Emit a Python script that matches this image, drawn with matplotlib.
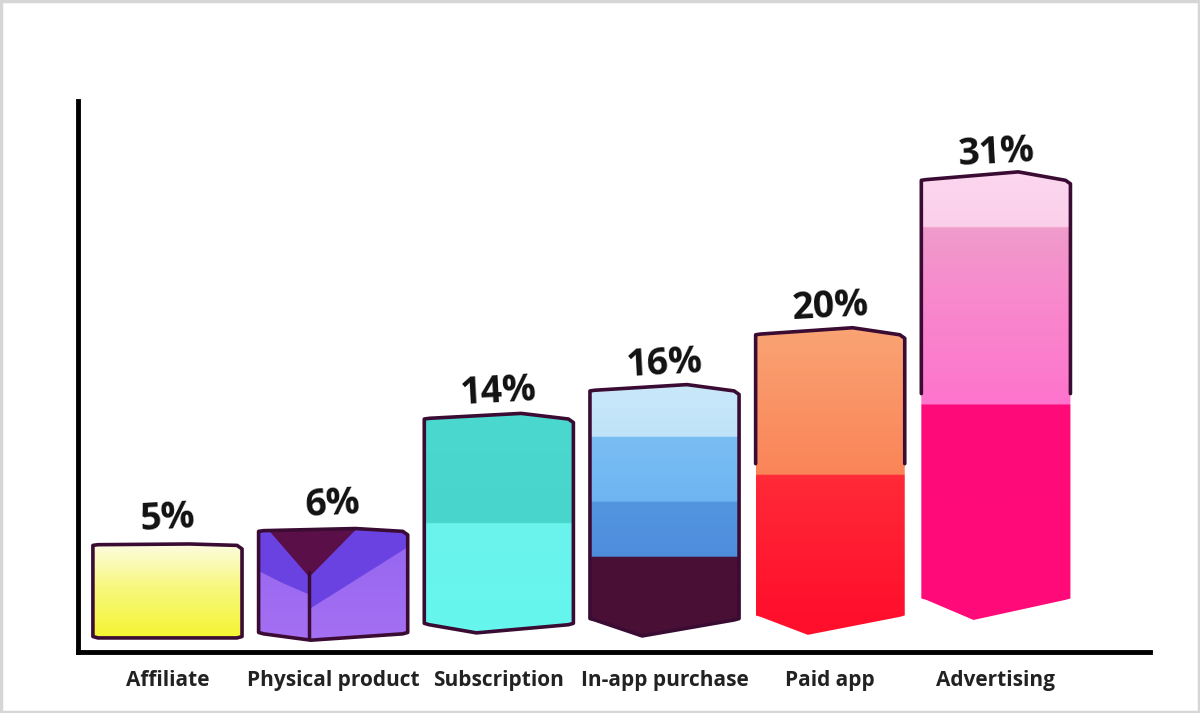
import numpy as np
import matplotlib
matplotlib.use("Agg")
import matplotlib.pyplot as plt
from matplotlib.patches import Polygon, Rectangle
from matplotlib.colors import LinearSegmentedColormap

# ---------------- data ----------------
categories = ["Affiliate", "Physical product", "Subscription",
              "In-app purchase", "Paid app", "Advertising"]
values = [5, 6, 14, 16, 20, 31]
value_labels = ["5%", "6%", "14%", "16%", "20%", "31%"]

# ---------------- styles ----------------
# colour stops: (fraction of bar height from bottom, colour)
bar_stops = [
    [(0.0, "#f4f432"), (0.55, "#f8f880"), (1.0, "#fcfce0")],
    [(0.0, "#a46ff2"), (1.0, "#9466f0")],
    [(0.0, "#66f6ee"), (0.492, "#6af3ec"), (0.493, "#48d5cb"), (1.0, "#4bd8ce")],
    [(0.0, "#4a0f35"), (0.274, "#4a0f35"), (0.275, "#4e8ddc"), (0.514, "#5396e0"),
     (0.515, "#6eb6f2"), (0.797, "#79bdf3"), (0.798, "#bfe3f8"), (1.0, "#c8e8fa")],
    [(0.0, "#ff0f2c"), (0.502, "#ff2a38"), (0.503, "#fb8458"), (1.0, "#f9a272")],
    [(0.0, "#ff0a78"), (0.464, "#ff0a7a"), (0.465, "#fe74cc"), (0.75, "#f78ccd"),
     (0.886, "#ef9ccb"), (0.887, "#fbcfea"), (1.0, "#fcd6ee")],
]
peak = [0.05, 0.15, 0.35, 0.4, 0.45, 0.55]             # top ridge height (data units)
side_bottom = [-1.64, -1.35, -0.7, -0.36, -0.14, 1.07]  # lower end of bar sides
point_bottom = [-1.64, -1.8, -1.28, -1.5, -1.42, -0.36]  # tip of bottom point
outline_down = [0.0, 0.0, 0.0, 0.0, 0.502, 0.464]      # outline stops at this fraction
outline_color = "#3b0c33"
base = -1.8
width = 0.9

fig = plt.figure(figsize=(12, 7.13), dpi=100)
ax = fig.add_axes([0.065, 0.0856, 0.8933, 0.7728])
x = np.arange(len(categories))

bars = ax.bar(x, [v - base for v in values], bottom=base, width=width,
              color="none", edgecolor="none", zorder=1)

for i, (b, v) in enumerate(zip(bars, values)):
    x0, w = b.get_x(), b.get_width()
    x1 = x0 + w
    yt = b.get_y() + b.get_height()
    sb, pb = side_bottom[i], point_bottom[i]
    h = yt - sb
    pts = [
        (x0, yt - 0.05), (x0 + 0.03, yt), (x0 + 0.65 * w, yt + peak[i]),
        (x1 - 0.03, yt - 0.05), (x1, yt - 0.3),
        (x1, sb + 0.1), (x1 - 0.03, sb),
        (x0 + 0.35 * w, pb),
        (x0 + 0.03, sb), (x0, sb + 0.1),
    ]
    poly = Polygon(pts, closed=True, facecolor="none", edgecolor="none")
    ax.add_patch(poly)
    stops = bar_stops[i]
    cmap = LinearSegmentedColormap.from_list(f"c{i}", stops, N=1024)
    yy = np.linspace(0, 1, 600)[::-1].reshape(-1, 1)
    img = ax.imshow(yy, cmap=cmap, vmin=0, vmax=1, aspect="auto",
                    extent=[x0, x1, sb, yt], interpolation="bilinear", zorder=2)
    img.set_clip_path(poly)
    ax.add_patch(Rectangle((x0, yt), w, 1.0, facecolor=stops[-1][1],
                           edgecolor="none", zorder=2, clip_path=poly))
    ax.add_patch(Rectangle((x0, sb - 2.0), w, 2.0, facecolor=stops[0][1],
                           edgecolor="none", zorder=2, clip_path=poly))

    if i == 1:  # cube shading on physical product
        def P(u, vv):
            return (x0 + u * w, sb + vv * h)
        dark = Polygon([P(0, 1.1), P(1, 1.1), P(1, 0.84), P(0.34, 0.24),
                        P(0.34, 0.38), P(0.15, 0.5), P(0, 0.61)],
                       closed=True, facecolor="#6a42e2", edgecolor="none",
                       zorder=3)
        ax.add_patch(dark)
        dark.set_clip_path(poly)
        tri = Polygon([P(0.04, 1.05), P(0.68, 1.05), P(0.34, 0.55)], closed=True,
                      facecolor="#5b0f48", edgecolor="none", zorder=4)
        ax.add_patch(tri)
        tri.set_clip_path(poly)
        ax.plot([x0 + 0.34 * w, x0 + 0.34 * w], [sb + 0.6 * h, pb + 0.05],
                color=outline_color, lw=2.5, zorder=5, solid_capstyle="round")

    # outline
    if outline_down[i] == 0.0:
        ax.add_patch(Polygon(pts, closed=True, facecolor="none",
                             edgecolor=outline_color, lw=2.6, zorder=6,
                             joinstyle="round"))
    else:
        ycut = sb + outline_down[i] * h + 0.8
        line = [(x1, ycut)] + pts[4:0:-1] + [pts[0], (x0, ycut)]
        lx, ly = zip(*line)
        ax.plot(lx, ly, color=outline_color, lw=2.6, zorder=6,
                solid_joinstyle="round", solid_capstyle="round")

    ax.text(b.get_x() + w / 2, v + 0.4, value_labels[i], ha="center", va="bottom",
            fontsize=27, fontweight="bold", family="Open Sans", color="#111111",
            rotation=3, zorder=7)

ax.set_xlim(-0.54, 5.93)
ax.set_ylim(-2.64, 36.6)
ax.set_xticks(x)
ax.set_xticklabels(categories, fontsize=15, fontweight="bold",
                   family="Open Sans", color="#222222")
ax.tick_params(axis="x", length=0, pad=13)
ax.set_yticks([])
for s in ["top", "right"]:
    ax.spines[s].set_visible(False)
for s in ["left", "bottom"]:
    ax.spines[s].set_linewidth(3.5)
    ax.spines[s].set_color("#000000")
    ax.spines[s].set_capstyle("projecting")

# light gray frame around the picture
fig.patches.append(Rectangle((0.001, 0.001), 0.998, 0.997, transform=fig.transFigure,
                             facecolor="none", edgecolor="#d6d6d6", lw=2.5))

fig.savefig("out.png", dpi=100, facecolor="white")
